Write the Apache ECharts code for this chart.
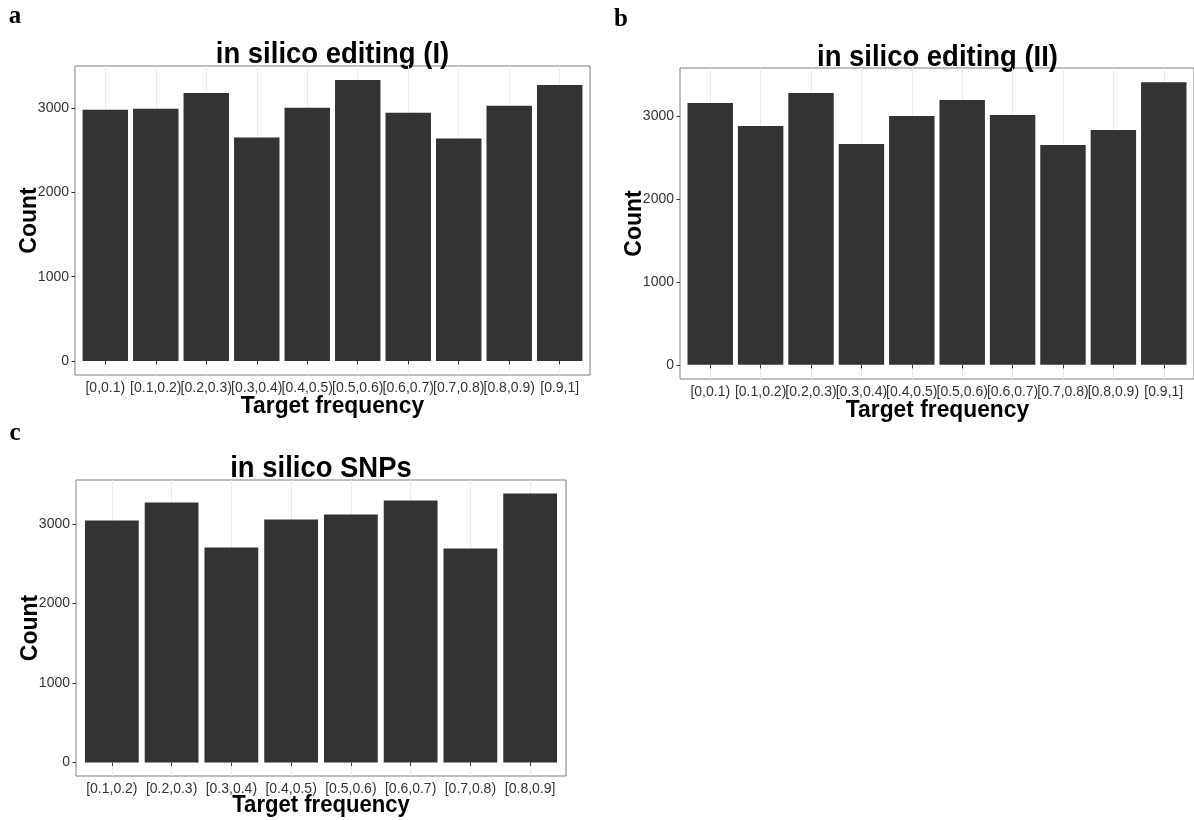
<!DOCTYPE html>
<html>
<head>
<meta charset="utf-8">
<script src="https://cdn.jsdelivr.net/npm/echarts@6/dist/echarts.min.js"></script>
<style>
  html, body { margin: 0; padding: 0; background: #ffffff; }
  #chart { width: 1194px; height: 820px; }
</style>
</head>
<body>
<div id="chart"></div>
<script>
// Frequency bins (x categories)
const binsFull = ['[0,0.1)', '[0.1,0.2)', '[0.2,0.3)', '[0.3,0.4)', '[0.4,0.5)',
                  '[0.5,0.6)', '[0.6,0.7)', '[0.7,0.8)', '[0.8,0.9)', '[0.9,1]'];
const binsSnp = ['[0.1,0.2)', '[0.2,0.3)', '[0.3,0.4)', '[0.4,0.5)',
                 '[0.5,0.6)', '[0.6,0.7)', '[0.7,0.8)', '[0.8,0.9]'];

// Counts per bin
const countsEditingI  = [2980, 2992, 3180, 2651, 3004, 3333, 2945, 2639, 3027, 3274];
const countsEditingII = [3154, 2878, 3274, 2662, 2998, 3190, 3010, 2650, 2830, 3406];
const countsSnps      = [3041, 3268, 2702, 3054, 3117, 3293, 2689, 3382];

// Y tick values
const yTicks = [0, 1000, 2000, 3000];

const panelTitles = ['in silico editing (I)', 'in silico editing (II)', 'in silico SNPs'];
const panelLetters = ['a', 'b', 'c'];
const xTitle = 'Target frequency';
const yTitle = 'Count';

// Panel geometry (plot rectangles), title positions and letter positions
const panels = [
  { cats: binsFull, vals: countsEditingI,  box: { left: 75,  top: 66,  width: 515, height: 309 }, titleY: 54.5, xTitleGap: 31, xTitleScale: 0.95, letter: [15, 17] },
  { cats: binsFull, vals: countsEditingII, box: { left: 680, top: 68,  width: 515, height: 311 }, titleY: 57.5, xTitleGap: 31, xTitleScale: 0.95, letter: [621, 20] },
  { cats: binsSnp,  vals: countsSnps,      box: { left: 76,  top: 480, width: 490, height: 296 }, titleY: 468.5, xTitleGap: 29, xTitleScale: 0.92, letter: [15, 434] }
];

const FONT = '"Liberation Sans", Arial, Helvetica, sans-serif';
const grids = [], xAxes = [], yAxes = [], series = [], graphics = [];

panels.forEach((p, k) => {
  const n = p.cats.length;
  const unit = p.box.width / (n + 0.2);           // discrete scale: 0.6 padding on each side
  const ymax = Math.max(...p.vals);
  const xTickVals = p.cats.map((c, i) => i + 1);

  grids.push({
    left: p.box.left, top: p.box.top, width: p.box.width, height: p.box.height,
    show: true, borderColor: '#7f7f7f', borderWidth: 1, backgroundColor: '#ffffff',
    containLabel: false
  });

  xAxes.push({
    type: 'value', gridIndex: k, min: 0.4, max: n + 0.6,
    axisLine: { show: false },
    axisTick: { show: true, length: 3.5, customValues: xTickVals, lineStyle: { color: '#333333', width: 1 } },
    axisLabel: {
      customValues: xTickVals, margin: 6, fontSize: 14, fontFamily: FONT, color: '#333333',
      formatter: v => p.cats[Math.round(v) - 1] || ''
    },
    splitLine: { show: true, lineStyle: { color: '#ebebeb', width: 1 } }
  });

  yAxes.push({
    type: 'value', gridIndex: k, min: -0.05 * ymax, max: 1.05 * ymax,
    axisLine: { show: false },
    axisTick: { show: true, length: 3.5, customValues: yTicks, lineStyle: { color: '#333333', width: 1 } },
    axisLabel: { customValues: yTicks, margin: 6, fontSize: 14, fontFamily: FONT, color: '#333333',
                 formatter: v => String(Math.round(v)) },
    splitLine: { show: false }
  });

  series.push({
    type: 'bar', xAxisIndex: k, yAxisIndex: k,
    data: p.vals.map((v, i) => [i + 1, v]),
    barWidth: 0.9 * unit,
    itemStyle: { color: '#333333' },
    silent: true
  });

  const cx = p.box.left + p.box.width / 2;
  const cy = p.box.top + p.box.height / 2;
  const bottom = p.box.top + p.box.height;

  // panel title
  graphics.push({
    type: 'text', x: cx, y: p.titleY, scaleX: 0.915,
    style: { text: panelTitles[k], fill: '#000000', font: 'bold 30px ' + FONT, textAlign: 'center', textVerticalAlign: 'middle' }
  });
  // x axis title
  graphics.push({
    type: 'text', x: cx, y: bottom + p.xTitleGap, scaleX: p.xTitleScale,
    style: { text: xTitle, fill: '#000000', font: 'bold 24px ' + FONT, textAlign: 'center', textVerticalAlign: 'middle' }
  });
  // y axis title
  graphics.push({
    type: 'text', x: p.box.left - 45, y: cy, rotation: Math.PI / 2,
    style: { text: yTitle, fill: '#000000', font: 'bold 23px ' + FONT, textAlign: 'center', textVerticalAlign: 'middle' }
  });
  // panel letter
  graphics.push({
    type: 'text', x: p.letter[0], y: p.letter[1],
    style: { text: panelLetters[k], fill: '#000000', font: 'bold 25px "Liberation Serif", "DejaVu Serif", serif', textAlign: 'center', textVerticalAlign: 'middle' }
  });
});

const chart = echarts.init(document.getElementById('chart'), null, { renderer: 'canvas' });
chart.setOption({
  backgroundColor: '#ffffff',
  animation: false,
  grid: grids,
  xAxis: xAxes,
  yAxis: yAxes,
  series: series,
  graphic: graphics
});
</script>
</body>
</html>
